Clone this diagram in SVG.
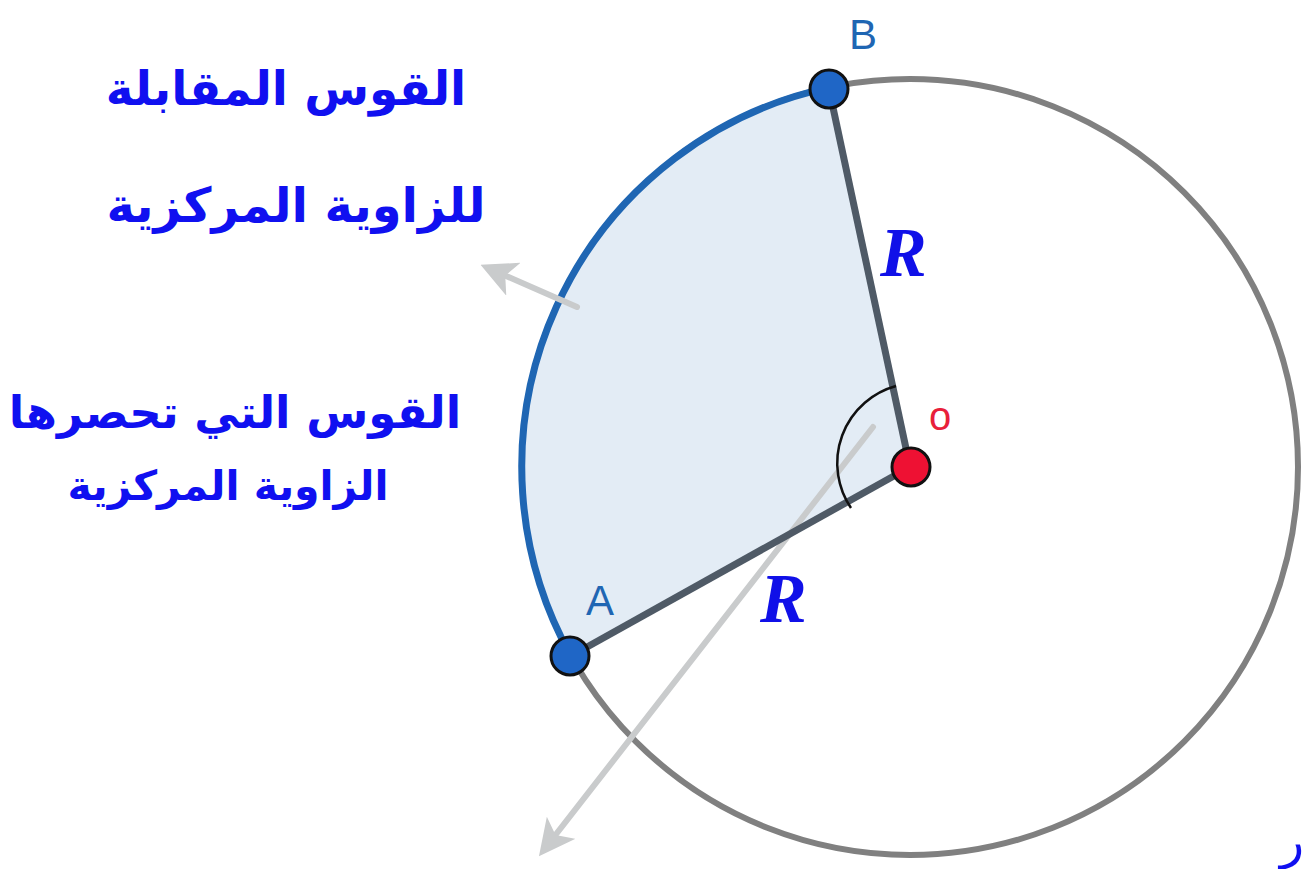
<svg xmlns="http://www.w3.org/2000/svg" width="1304" height="869" viewBox="0 0 1304 869">
<style>
.ar{font-family:"DejaVu Sans",sans-serif;fill:#1010f0;text-anchor:middle}
.pt{font-family:"Liberation Sans",Arial,sans-serif;fill:#1f66b3;font-size:42px}
.rr{font-family:"Liberation Serif","DejaVu Serif",serif;font-style:italic;font-weight:bold;fill:#1010e8;font-size:70px}
.gray{stroke:#c9cbcc;stroke-width:6;fill:none;stroke-linecap:round}
</style>
<defs>
<marker id="ah" markerWidth="6" markerHeight="6" refX="3" refY="3" orient="auto" markerUnits="strokeWidth">
<path d="M0,0 L6,3 L0,6 L1.5,3 Z" fill="#c9cbcc"/>
</marker>
</defs>
<rect width="1304" height="869" fill="#ffffff"/>
<g id="circle">
<circle cx="910" cy="467" r="388" fill="none" stroke="#808080" stroke-width="6"/>
</g>
<g id="sector">
<path d="M910,467 L828.7,87.6 A388,388 0 0 0 570.9,656 Z" fill="#e3ecf5" stroke="none"/>
<path d="M828.7,87.6 A388,388 0 0 0 570.9,656" fill="none" stroke="#1f66b3" stroke-width="7"/>
</g>
<g id="connectors">
<line class="gray" x1="577" y1="307" x2="497" y2="272" marker-end="url(#ah)"/>
<line class="gray" x1="873" y1="427" x2="550" y2="842" marker-end="url(#ah)"/>
<line x1="910" y1="467" x2="828.7" y2="87.6" stroke="#4f5a66" stroke-width="7"/>
<line x1="910" y1="467" x2="570.9" y2="656" stroke="#4f5a66" stroke-width="7"/>
<path d="M896,386 A80,80 0 0 0 851,508" fill="none" stroke="#111" stroke-width="2.5"/>
</g>
<g id="nodeB">
<circle cx="829" cy="89" r="19" fill="#1f66c6" stroke="#111" stroke-width="3"/>
<text class="pt" x="849" y="49">B</text>
</g>
<g id="nodeA">
<circle cx="570" cy="656" r="19" fill="#1f66c6" stroke="#111" stroke-width="3"/>
<text class="pt" x="586" y="615">A</text>
</g>
<g id="nodeO">
<circle cx="911" cy="467" r="19" fill="#ee1133" stroke="#111" stroke-width="3"/>
<text x="929" y="430" font-family="Liberation Sans, Arial, sans-serif" font-size="40" fill="#e8203a">o</text>
</g>
<g id="labelsR">
<text class="rr" x="880" y="276">R</text>
<text class="rr" x="760" y="622">R</text>
</g>
<g id="label1">
<text class="ar" x="286" y="105" font-size="47" font-weight="bold">القوس المقابلة</text>
<text class="ar" x="296" y="222" font-size="48" font-weight="bold">للزاوية المركزية</text>
</g>
<g id="label2">
<text class="ar" x="235" y="428" font-size="45" font-weight="bold">القوس التي تحصرها</text>
<text class="ar" x="228" y="500" font-size="41" font-weight="bold">الزاوية المركزية</text>
</g>
<g id="fragment">
<text class="ar" x="1280" y="858" font-size="50" style="text-anchor:start">ر</text>
</g>
</svg>
